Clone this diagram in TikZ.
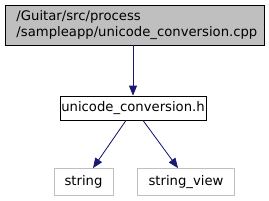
\documentclass[tikz,border=0pt]{standalone}
\usepackage{fontspec}
\setmainfont{DejaVu Sans}
\usetikzlibrary{arrows.meta}
\definecolor{edgeblue}{HTML}{191970}
\definecolor{boxgray}{HTML}{BFBFBF}
\tikzset{
  lbl/.style={font=\fontsize{13.2bp}{16bp}\selectfont, text=black, inner sep=0pt},
  box/.style={lbl, draw=black, line width=0.8bp},
  extbox/.style={lbl, draw=boxgray, line width=0.8bp},
  arr/.style={draw=edgeblue, line width=0.8bp, -{Triangle[length=10bp,width=8bp]}, fill=edgeblue},
}
\begin{document}
\begin{tikzpicture}[x=1bp,y=-1bp]
\useasboundingbox[fill=white] (0,0) rectangle (269,201);
\node[box, fill=boxgray, minimum width=259bp, minimum height=40bp, align=left, text width=236bp] (top) at (134.5,25) {/Guitar/src/process\\/sampleapp/unicode\_conversion.cpp};
\node[box, fill=white, minimum width=146bp, minimum height=24bp] (mid) at (133,108) {unicode\_conversion.h};
\node[extbox, minimum width=59bp, minimum height=27bp] (str) at (83.5,182) {string};
\node[extbox, minimum width=97bp, minimum height=27bp] (sv) at (186,182) {string\_view};
\draw[arr] (top.south -| mid.north) -- (mid.north);
\draw[arr] ([xshift=-7bp]mid.south) -- ([xshift=9.5bp]str.north);
\draw[arr] ([xshift=10bp]mid.south) -- ([xshift=-8bp]sv.north);
\end{tikzpicture}
\end{document}
